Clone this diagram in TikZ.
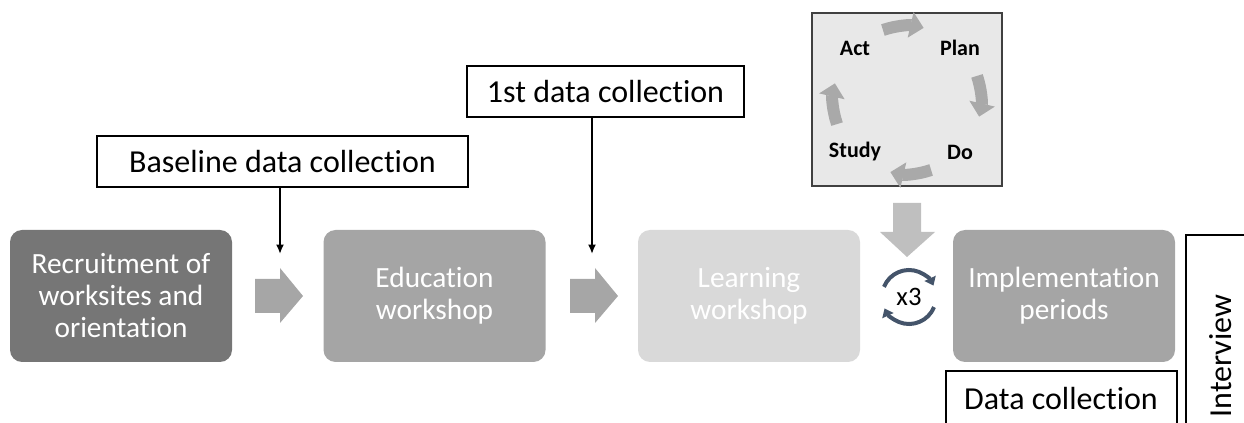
\documentclass[tikz,border=0pt]{standalone}
\usepackage{fontspec}
\setmainfont[Ligatures={NoCommon}]{Carlito}
\usetikzlibrary{arrows.meta,positioning}

\definecolor{darkstage}{HTML}{767676}
\definecolor{midstage}{HTML}{A5A5A5}
\definecolor{lightstage}{HTML}{D9D9D9}
\definecolor{blockgray}{HTML}{A6A6A6}
\definecolor{downgray}{HTML}{BFBFBF}
\definecolor{pdsafill}{HTML}{E8E8E8}
\definecolor{cyclegray}{HTML}{A9A9A9}
\definecolor{repeatblue}{HTML}{44546A}

\tikzset{
  stage/.style={rounded corners=9pt, minimum width=166.5pt, minimum height=99pt,
    text=white, align=center, inner sep=0pt, font=\fontsize{22}{24}\selectfont},
  callout/.style={draw, line width=1.1pt, inner sep=0pt, font=\fontsize{24}{26}\selectfont},
  pdsa/.style={font=\fontsize{16.5}{18}\selectfont\bfseries},
  pointer/.style={line width=1.4pt, -{Latex[length=7pt,width=6pt]}}
}

\begin{document}
\begin{tikzpicture}[x=0.75pt, y=-0.75pt]
\useasboundingbox (0,0) rectangle (1244,423);

% stages
\node[stage, fill=darkstage]  (recruit) at (121,296)  {Recruitment of\\worksites and\\orientation};
\node[stage, fill=midstage]   (educ)    at (434.5,296) {Education\\workshop};
\node[stage, fill=lightstage] (learn)   at (749,296)  {Learning\\workshop};
\node[stage, fill=midstage]   (impl)    at (1064,296) {Implementation\\periods};

% block arrows between stages
\foreach \x in {255,570}{
  \fill[blockgray] (\x,279) -- ++(25,0) -- ++(0,-11) -- ++(23,28) -- ++(-23,27)
    -- ++(0,-10) -- ++(-25,0) -- cycle;
}

% data collection callouts
\node[callout, minimum width=278.25pt, minimum height=38.25pt] (base) at (282.5,161.5) {Baseline data collection};
\node[callout, minimum width=207.75pt, minimum height=38.25pt] (first) at (605.5,91.5) {1st data collection};
\coordinate (t1) at (280,254);
\coordinate (t2) at (592,254);
\draw[pointer] (base.south -| t1) -- (t1);
\draw[pointer] (first.south -| t2) -- (t2);

% PDSA cycle
\draw[line width=1.1pt, fill=pdsafill, draw=black!75] (812,13) rectangle (1002,186);
\coordinate (cyc) at (907,100);
\node[pdsa] (act)   at (855,48)  {Act};
\node[pdsa] (plan)  at (960,48)  {Plan};
\node[pdsa] (study) at (855,152) {Study};
\node[pdsa] (do)    at (960,152) {Do};
\foreach \c in {-90,0,90,180}{
  \draw[cyclegray, line width=9pt, -{Triangle[width=19pt,length=10pt]}]
    (cyc) ++(\c-19:74) arc[start angle=\c-19, end angle=\c+13, radius=74];
}

% down arrow into repeat
\fill[downgray] (893,203) -- (921,203) -- (921,232) -- (935,232) -- (907,257)
  -- (880,232) -- (893,232) -- cycle;

% repeat x3
\coordinate (rep) at (909,297);
\node[font=\fontsize{20}{22}\selectfont] (three) at (rep) {x3};
\draw[repeatblue, line width=3pt, -{Triangle[width=9pt,length=6pt]}]
  (rep) ++(-158:27) arc[start angle=-158, end angle=-25, radius=27];
\draw[repeatblue, line width=3pt, -{Triangle[width=9pt,length=6pt]}]
  (rep) ++(22:27) arc[start angle=22, end angle=155, radius=27];

% data collection + interview
\draw[line width=1.1pt] (946,423) -- (946,371) -- (1177,371) -- (1177,423);
\node[font=\fontsize{24}{26}\selectfont] (dcoll) at (1061,399) {Data collection};
\draw[line width=1.1pt] (1186,423) -- (1186,235) -- (1244,235);
\node[rotate=90, font=\fontsize{24}{26}\selectfont] (inter) at (1221,356) {Interview};

\end{tikzpicture}
\end{document}
